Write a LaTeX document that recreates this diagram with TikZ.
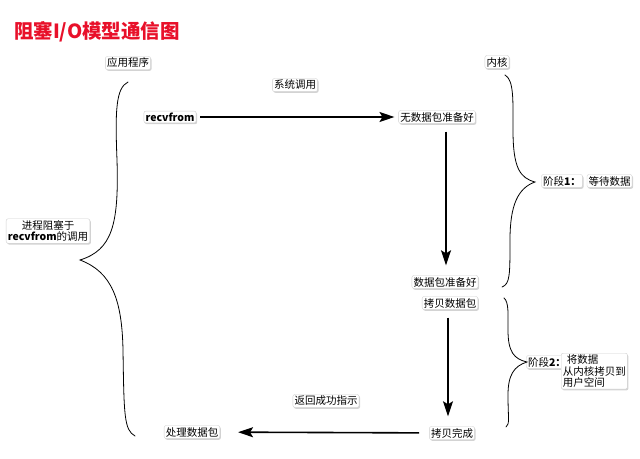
\documentclass[tikz,border=0pt]{standalone}
\usepackage{fontspec}
\setmainfont{Noto Sans CJK SC}
\usepackage{tikz}
\usetikzlibrary{arrows.meta,positioning,shadows}
\definecolor{TitleRed}{HTML}{E8102A}
\definecolor{LabelEdge}{HTML}{CFCFCF}

\begin{document}
\begin{tikzpicture}[
  x=1pt, y=-1pt,
  node distance=3pt and 4pt,
  lbl/.style={fill=white,draw=LabelEdge,rounded corners=2pt,inner sep=1.6pt,align=center,
              font=\fontsize{10.5}{11.5}\selectfont,
              drop shadow={opacity=0.35,shadow xshift=1pt,shadow yshift=-1.3pt}},
  arrow/.style={-{Stealth[length=15pt,width=10pt,inset=3pt]},line width=1.6pt},
  brace/.style={line width=0.8pt,line cap=round}]
\useasboundingbox (0,0) rectangle (640,458);
\node[font=\fontsize{19.5}{22}\selectfont\bfseries,text=TitleRed] (title) at (97,32) {阻塞I/O模型通信图};
% top labels
\node[lbl] (app) at (128,63) {应用程序};
\node[lbl] (kernel) at (497,62) {内核};
% system call
\node[lbl] (recv) at (170,117) {\textbf{recvfrom}};
\node[lbl] (syscall) at (295,85) {系统调用};
\node[lbl] (nodata) at (437,117) {无数据包准备好};
\node[lbl] (ready) at (445,282) {数据包准备好};
\node[lbl] (copy) at (450,303) {拷贝数据包};
\node[lbl] (done) at (452,433) {拷贝完成};
\node[lbl] (handle) at (192,432) {处理数据包};
\node[lbl] (ret) at (326,401) {返回成功指示};
% side notes
\node[lbl] (block) at (48,231) {进程阻塞于\\\textbf{recvfrom}的调用};
\node[lbl] (stage1) at (562,181) {阶段\textbf{1：}};
\node[lbl, right=of stage1] (wait) {等待数据};
\node[lbl] (stage2) at (547,362) {阶段\textbf{2：}};
\node[lbl, align=left, anchor=north west] (move) at (561,353) {\hspace{4pt}将数据\\从内核拷贝到\\用户空间};
% arrows
\draw[arrow,shorten <=4pt,shorten >=4pt] (recv) -- (nodata);
\draw[arrow,shorten <=8pt,shorten >=10pt] ([xshift=9pt]nodata.south) -- ([xshift=9pt]nodata.south |- ready.north);
\draw[arrow,shorten <=8pt,shorten >=10pt] ([xshift=-2pt]copy.south) -- ([xshift=-2pt]copy.south |- done.north);
\draw[arrow,shorten <=10pt,shorten >=18pt] (done) -- (handle);
% braces
\draw[brace] (128,82) .. controls (116,88) and (115,110) .. (117,160)
  .. controls (119,225) and (112,250) .. (80,260)
  .. controls (112,272) and (122,300) .. (123,350)
  .. controls (124,415) and (124,430) .. (135,436);
\draw[brace] (505,75) .. controls (514,80) and (513,100) .. (513,130)
  .. controls (513,168) and (520,178) .. (535,182)
  .. controls (518,188) and (510,205) .. (510,240)
  .. controls (510,275) and (510,284) .. (502,287);
\draw[brace] (504,298) .. controls (509,302) and (508,315) .. (508,330)
  .. controls (508,352) and (514,359) .. (527,362)
  .. controls (514,366) and (508,375) .. (508,395)
  .. controls (508,418) and (510,424) .. (506,427);
\end{tikzpicture}
\end{document}
